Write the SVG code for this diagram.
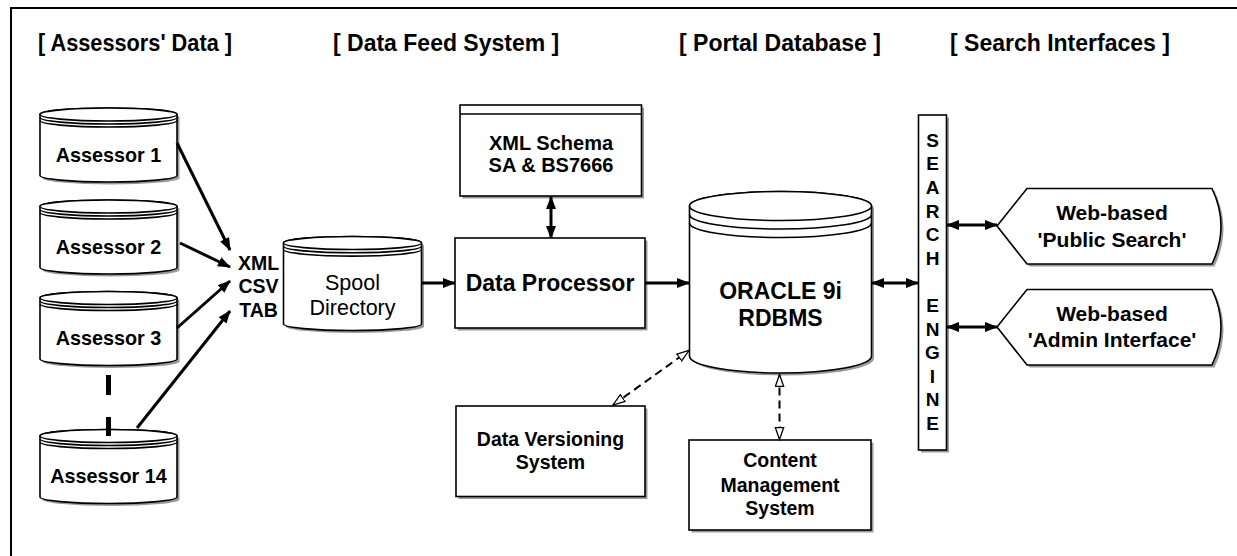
<svg xmlns="http://www.w3.org/2000/svg" xmlns:xlink="http://www.w3.org/1999/xlink" width="1237" height="556" viewBox="0 0 1237 556">
<style>
.t{font-family:"Liberation Sans",Arial,Helvetica,sans-serif;font-weight:bold;fill:#000;text-anchor:middle}
.h{font-family:"Liberation Sans",Arial,Helvetica,sans-serif;font-weight:bold;fill:#000;font-size:23px}
.r{font-weight:normal}
.shape{fill:#fff;stroke:#000;stroke-width:1.6}
.line{fill:none;stroke:#000;stroke-width:1.6}
.sh{fill:#9a9a9a;stroke:none}
.conn{fill:none;stroke:#000;stroke-width:3}
.dash{fill:none;stroke:#000;stroke-width:2;stroke-dasharray:8 5}
</style>
<defs>
<marker id="ah" markerUnits="userSpaceOnUse" markerWidth="14" markerHeight="11" refX="12" refY="5" orient="auto-start-reverse" viewBox="0 0 14 11">
<path d="M0,0 L13,5 L0,10 Z" fill="#000" stroke="none"/>
</marker>
<marker id="oh" markerUnits="userSpaceOnUse" markerWidth="14" markerHeight="11" refX="12.5" refY="5" orient="auto-start-reverse" viewBox="0 0 14 11">
<path d="M0.5,0.8 L12.5,5 L0.5,9.2 Z" fill="#fff" stroke="#000" stroke-width="1.3" stroke-dasharray="none"/>
</marker>
<g id="cylA">
<path class="sh" transform="translate(2.5,2.5)" d="M0,6.5 A68.5,6.5 0 0 1 137,6.5 L137,67.5 A68.5,6.5 0 0 1 0,67.5 Z"/>
<path class="shape" d="M0,6.5 A68.5,6.5 0 0 1 137,6.5 L137,67.5 A68.5,6.5 0 0 1 0,67.5 Z"/>
<ellipse class="shape" cx="68.5" cy="6.5" rx="68.5" ry="6.5"/>
<path class="line" d="M0,9.5 A68.5,6.5 0 0 0 137,9.5 M0,12.5 A68.5,6.5 0 0 0 137,12.5"/>
</g>
</defs>

<rect x="11" y="8" width="1240" height="560" fill="none" stroke="#000" stroke-width="2"/>

<g id="headers">
<text class="h" x="38" y="51" textLength="194" lengthAdjust="spacingAndGlyphs">[ Assessors' Data ]</text>
<text class="h" x="333" y="51">[ Data Feed System ]</text>
<text class="h" x="679" y="51">[ Portal Database ]</text>
<text class="h" x="950" y="51">[ Search Interfaces ]</text>
</g>

<g id="assessor1">
<use xlink:href="#cylA" href="#cylA" transform="translate(40,108)"/>
<text class="t" x="108.5" y="161.5" font-size="19.8">Assessor 1</text>
</g>
<g id="assessor2">
<use xlink:href="#cylA" href="#cylA" transform="translate(40,200)"/>
<text class="t" x="108.5" y="253.5" font-size="19.8">Assessor 2</text>
</g>
<g id="assessor3">
<use xlink:href="#cylA" href="#cylA" transform="translate(40,291.5)"/>
<text class="t" x="108.5" y="345" font-size="19.8">Assessor 3</text>
</g>
<g id="assessor14">
<use xlink:href="#cylA" href="#cylA" transform="translate(40,429.5)"/>
<text class="t" x="108.5" y="482.5" font-size="19.8">Assessor 14</text>
</g>

<g id="formats">
<text class="t" x="258.5" y="270" font-size="19.5">XML</text>
<text class="t" x="258.5" y="293" font-size="19.5">CSV</text>
<text class="t" x="258.5" y="316.5" font-size="19.5">TAB</text>
</g>

<g id="spool">
<path class="sh" transform="translate(2.5,2.5)" d="M283.5,243 A69,6.5 0 0 1 421.5,243 L421.5,324 A69,6.5 0 0 1 283.5,324 Z"/>
<path class="shape" d="M283.5,243 A69,6.5 0 0 1 421.5,243 L421.5,324 A69,6.5 0 0 1 283.5,324 Z"/>
<ellipse class="shape" cx="352.5" cy="243" rx="69" ry="6.5"/>
<path class="line" d="M283.5,246.3 A69,6.5 0 0 0 421.5,246.3 M283.5,249.6 A69,6.5 0 0 0 421.5,249.6"/>
<text class="t r" x="352.5" y="290" font-size="21.5">Spool</text>
<text class="t r" x="352.5" y="314.5" font-size="21.5">Directory</text>
</g>

<g id="schema">
<rect class="sh" x="462.5" y="107.5" width="181.5" height="91"/>
<rect class="shape" x="460" y="105" width="181.5" height="91"/>
<line class="line" x1="460" y1="114" x2="641.5" y2="114"/>
<text class="t" x="551" y="150" font-size="20">XML Schema</text>
<text class="t" x="551" y="172" font-size="20">SA &amp; BS7666</text>
</g>

<g id="processor">
<rect class="sh" x="457.5" y="240.5" width="190" height="90"/>
<rect class="shape" x="455" y="238" width="190" height="90"/>
<text class="t" x="550" y="291" font-size="23">Data Processor</text>
</g>

<g id="oracle">
<path class="sh" transform="translate(2.5,2.5)" d="M689.5,206 A91,14.5 0 0 1 871.5,206 L871.5,356 A91,17 0 0 1 689.5,356 Z"/>
<path class="shape" d="M689.5,206 A91,14.5 0 0 1 871.5,206 L871.5,356 A91,17 0 0 1 689.5,356 Z"/>
<ellipse class="shape" cx="780.5" cy="206" rx="91" ry="14.5"/>
<path class="line" d="M689.5,214.5 A91,14.5 0 0 0 871.5,214.5 M689.5,223 A91,14.5 0 0 0 871.5,223"/>
<text class="t" x="780.5" y="299" font-size="23">ORACLE 9i</text>
<text class="t" x="780.5" y="326" font-size="23">RDBMS</text>
</g>

<g id="versioning">
<rect class="sh" x="458.5" y="408.5" width="189" height="90.5"/>
<rect class="shape" x="456" y="406" width="189" height="90.5"/>
<text class="t" x="550.5" y="446" font-size="19.5">Data Versioning</text>
<text class="t" x="550.5" y="469" font-size="19.5">System</text>
</g>

<g id="cms">
<rect class="sh" x="691.5" y="442.5" width="182" height="90"/>
<rect class="shape" x="689" y="440" width="182" height="90"/>
<text class="t" x="780" y="467" font-size="19.5">Content</text>
<text class="t" x="780" y="491.5" font-size="19.5">Management</text>
<text class="t" x="780" y="515" font-size="19.5">System</text>
</g>

<g id="searchengine">
<rect class="sh" x="921" y="117.5" width="28" height="335"/>
<rect class="shape" x="918.5" y="115" width="28" height="335"/>
<g class="t" font-size="19">
<text x="932.5" y="146.8">S</text>
<text x="932.5" y="170.4">E</text>
<text x="932.5" y="194">A</text>
<text x="932.5" y="217.6">R</text>
<text x="932.5" y="241.2">C</text>
<text x="932.5" y="264.8">H</text>
<text x="932.5" y="312">E</text>
<text x="932.5" y="335.6">N</text>
<text x="932.5" y="359.2">G</text>
<text x="932.5" y="382.8">I</text>
<text x="932.5" y="406.4">N</text>
<text x="932.5" y="430">E</text>
</g>
</g>

<g id="publicsearch">
<path class="sh" transform="translate(2.5,2.5)" d="M997,226 L1027,188.5 L1212,188.5 Q1230,226 1212,264 L1027,264 Z"/>
<path class="shape" d="M997,226 L1027,188.5 L1212,188.5 Q1230,226 1212,264 L1027,264 Z"/>
<text class="t" x="1112" y="220" font-size="21">Web-based</text>
<text class="t" x="1112" y="247" font-size="21">'Public Search'</text>
</g>

<g id="admininterface">
<path class="sh" transform="translate(2.5,2.5)" d="M997,327 L1027,289.5 L1212,289.5 Q1230,327 1212,365 L1027,365 Z"/>
<path class="shape" d="M997,327 L1027,289.5 L1212,289.5 Q1230,327 1212,365 L1027,365 Z"/>
<text class="t" x="1112" y="320.5" font-size="21">Web-based</text>
<text class="t" x="1112" y="347" font-size="21">'Admin Interface'</text>
</g>

<g id="connectors">
<line class="conn" x1="177" y1="143" x2="230" y2="250" marker-end="url(#ah)"/>
<line class="conn" x1="180" y1="243" x2="230" y2="267" marker-end="url(#ah)"/>
<line class="conn" x1="177" y1="328" x2="230" y2="281" marker-end="url(#ah)"/>
<line class="conn" x1="137" y1="428" x2="230" y2="311" marker-end="url(#ah)"/>
<line x1="108.5" y1="375" x2="108.5" y2="436" stroke="#000" stroke-width="5" stroke-dasharray="20 22"/>
<line class="conn" x1="422" y1="283" x2="455" y2="283" marker-end="url(#ah)"/>
<line class="conn" x1="551" y1="197" x2="551" y2="238" marker-start="url(#ah)" marker-end="url(#ah)"/>
<line class="conn" x1="645" y1="283" x2="689" y2="283" marker-end="url(#ah)"/>
<line class="conn" x1="872" y1="283" x2="918" y2="283" marker-start="url(#ah)" marker-end="url(#ah)"/>
<line class="conn" x1="947" y1="225" x2="997" y2="225" marker-start="url(#ah)" marker-end="url(#ah)"/>
<line class="conn" x1="947" y1="327" x2="997" y2="327" marker-start="url(#ah)" marker-end="url(#ah)"/>
<line class="dash" x1="613" y1="405" x2="689" y2="350.5" marker-start="url(#oh)" marker-end="url(#oh)"/>
<line class="dash" x1="779.5" y1="374.5" x2="779.5" y2="439.5" marker-start="url(#oh)" marker-end="url(#oh)"/>
</g>
</svg>
